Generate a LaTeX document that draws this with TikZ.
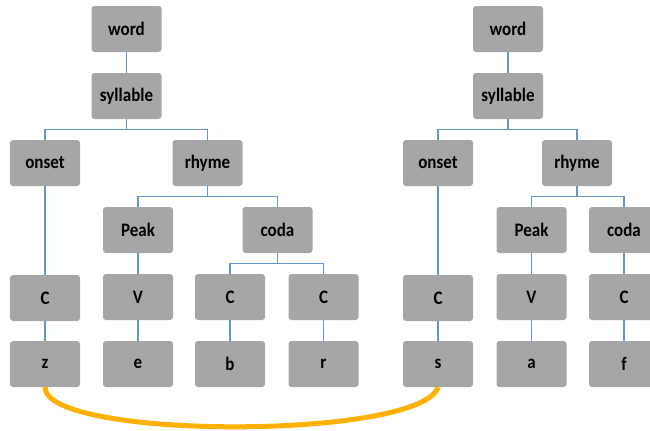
\documentclass[tikz,border=0pt]{standalone}
\usepackage{fontspec}
\usepackage{graphicx}
\setmainfont{Carlito}
\definecolor{boxgray}{HTML}{A6A6A6}
\definecolor{linkblue}{HTML}{6496CC}
\definecolor{arcorange}{HTML}{FFB000}
\newcommand{\tallt}[1]{\scalebox{1}[1.12]{#1}}
\begin{document}
\begin{tikzpicture}[x=1bp,y=-1bp,
  box/.style={fill=boxgray, rounded corners=3bp, minimum width=70bp, minimum height=46bp,
    inner sep=0pt, text=black, font=\fontsize{17bp}{20bp}\selectfont\bfseries},
  link/.style={draw=linkblue, line width=1.3bp},
  arc/.style={draw=arcorange, line width=5bp}]
\useasboundingbox (0,0) rectangle (650,430);
\clip (0,0) rectangle (650,430);
% left tree
\node[box] (word)  at (126.5,29) {\tallt{word}};
\node[box] (syl)   at (126.5,96) {\tallt{syllable}};
\node[box] (onset) at (45,163) {\tallt{onset}};
\node[box] (rhyme) at (207.5,163) {\tallt{rhyme}};
\node[box] (peak)  at (138,230) {\tallt{Peak}};
\node[box] (coda)  at (277.5,230) {\tallt{coda}};
\node[box] (c1)    at (45,298) {\tallt{C}};
\node[box] (v1)    at (138,297) {\tallt{V}};
\node[box] (c2)    at (230,297) {\tallt{C}};
\node[box] (c3)    at (323.5,297) {\tallt{C}};
\node[box] (z)     at (45,364) {\tallt{z}};
\node[box] (e)     at (138,364) {\tallt{e}};
\node[box] (b)     at (230,364) {\tallt{b}};
\node[box] (r)     at (323.5,364) {\tallt{r}};
% right tree
\node[box] (word2)  at (508,29) {\tallt{word}};
\node[box] (syl2)   at (508,96) {\tallt{syllable}};
\node[box] (onset2) at (438,163) {\tallt{onset}};
\node[box] (rhyme2) at (577,163) {\tallt{rhyme}};
\node[box] (peak2)  at (531.5,230) {\tallt{Peak}};
\node[box] (coda2)  at (624,230) {\tallt{coda}};
\node[box] (c4)     at (438,298) {\tallt{C}};
\node[box] (v2)     at (531.5,297) {\tallt{V}};
\node[box] (c5)     at (624,297) {\tallt{C}};
\node[box] (s)      at (438,364) {\tallt{s}};
\node[box] (a)      at (531.5,364) {\tallt{a}};
\node[box] (f)      at (624,364) {\tallt{f}};
% left links
\draw[link] (word) -- (syl);
\draw[link] (syl.south) -- ++(0,10) coordinate (j1) (onset.north) |- (j1) -| (rhyme.north);
\draw[link] (rhyme.south) -- ++(0,10) coordinate (j2) (peak.north) |- (j2) -| (coda.north);
\draw[link] (coda.south) -- ++(0,10) coordinate (j3) (c2.north) |- (j3) -| (c3.north);
\draw[link] (onset) -- (c1);
\draw[link] (peak) -- (v1);
\draw[link] (c1) -- (z);
\draw[link] (v1) -- (e);
\draw[link] (c2) -- (b);
\draw[link] (c3) -- (r);
% right links
\draw[link] (word2) -- (syl2);
\draw[link] (syl2.south) -- ++(0,10) coordinate (k1) (onset2.north) |- (k1) -| (rhyme2.north);
\draw[link] (rhyme2.south) -- ++(0,10) coordinate (k2) (peak2.north) |- (k2) -| (coda2.north);
\draw[link] (onset2) -- (c4);
\draw[link] (peak2) -- (v2);
\draw[link] (coda2) -- (c5);
\draw[link] (c4) -- (s);
\draw[link] (v2) -- (a);
\draw[link] (c5) -- (f);
% arc
\draw[arc] (z.south) .. controls (45,440) and (420,440) .. (s.south);
\end{tikzpicture}
\end{document}
